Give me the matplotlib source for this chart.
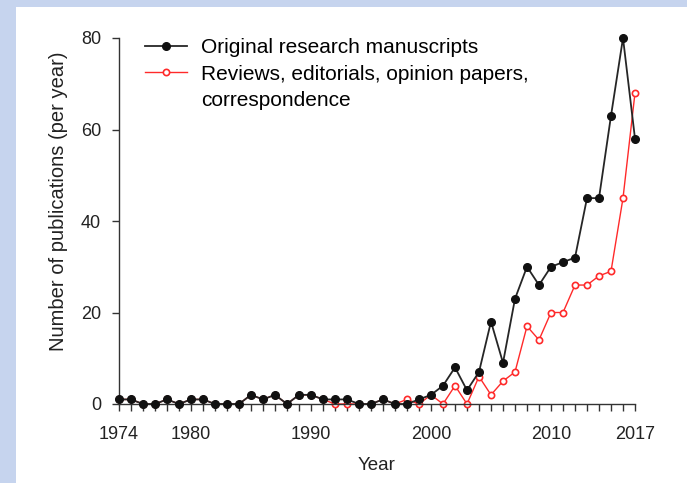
import matplotlib
matplotlib.use("Agg")
import matplotlib.pyplot as plt
from matplotlib.patches import Rectangle
from matplotlib.lines import Line2D

plt.rcParams['font.family'] = ['Liberation Sans', 'DejaVu Sans']

# data
years = list(range(1974, 2018))
original = [1, 1, 0, 0, 1, 0, 1, 1, 0, 0,
            0, 2, 1, 2, 0, 2, 2, 1, 1, 1,
            0, 0, 1, 0, 0, 1, 2, 4, 8, 3,
            7, 18, 9, 23, 30, 26, 30, 31, 32, 45,
            45, 63, 80, 58]
reviews = [1, 1, 0, 0, 1, 0, 1, 1, 0, 0,
           0, 2, 1, 2, 0, 2, 2, 1, 0, 0,
           0, 0, 1, 0, 1, 0, 2, 0, 4, 0,
           6, 2, 5, 7, 17, 14, 20, 20, 26, 26,
           28, 29, 45, 68]
year_labels = [1974, 1980, 1990, 2000, 2010, 2017]
y_ticks = [0, 20, 40, 60, 80]

fig = plt.figure(figsize=(6.87, 4.83), dpi=100)
fig.patch.set_facecolor('white')

# light blue frame on the left and top
band = '#c6d4ee'
fig.patches.append(Rectangle((0, 0), 16 / 687, 1, transform=fig.transFigure,
                             facecolor=band, edgecolor='none', zorder=0))
fig.patches.append(Rectangle((0, 1 - 7 / 483), 1, 7 / 483, transform=fig.transFigure,
                             facecolor=band, edgecolor='none', zorder=0))

ax = fig.add_axes([119 / 687, 79 / 483, (635 - 119) / 687, 366 / 483])

l_orig, = ax.plot(years, original, color='#262626', lw=1.3, marker='o',
                  markersize=5.5, markerfacecolor='#111111', markeredgecolor='#111111',
                  zorder=3, clip_on=False)
l_rev, = ax.plot(years, reviews, color='#ff2a2a', lw=1.0, marker='o',
                 markersize=4.5, markerfacecolor='white', markeredgecolor='#ff2a2a',
                 markeredgewidth=1.2, zorder=2, clip_on=False)

ax.set_xlim(1974, 2017)
ax.set_ylim(0, 80)
ax.set_xticks(year_labels)
ax.set_xticks(years, minor=True)
ax.set_yticks(y_ticks)

for s in ['top', 'right']:
    ax.spines[s].set_visible(False)
for s in ['left', 'bottom']:
    ax.spines[s].set_color('#333333')
    ax.spines[s].set_linewidth(1.0)

ax.tick_params(axis='both', which='both', direction='out', length=5,
               width=1.0, color='#333333', labelcolor='#222222', labelsize=13)
ax.tick_params(axis='x', which='major', pad=11)
ax.tick_params(axis='y', which='major', pad=8)

ax.set_xlabel('Year', fontsize=13.5, color='#222222', labelpad=10)
ax.set_ylabel('Number of publications (per year)', fontsize=14.5, color='#222222')
ax.yaxis.set_label_coords(-0.099, 0.555)

blank = Line2D([], [], linestyle='none')
ax.legend([l_orig, l_rev, blank],
          ['Original research manuscripts',
           'Reviews, editorials, opinion papers,',
           'correspondence'],
          loc='upper left', bbox_to_anchor=(0.034, 1.023), frameon=False,
          fontsize=15, handlelength=2.0, handletextpad=0.7,
          labelspacing=0.37, borderaxespad=0.0)

fig.savefig('out.png', dpi=100, facecolor=fig.get_facecolor())
